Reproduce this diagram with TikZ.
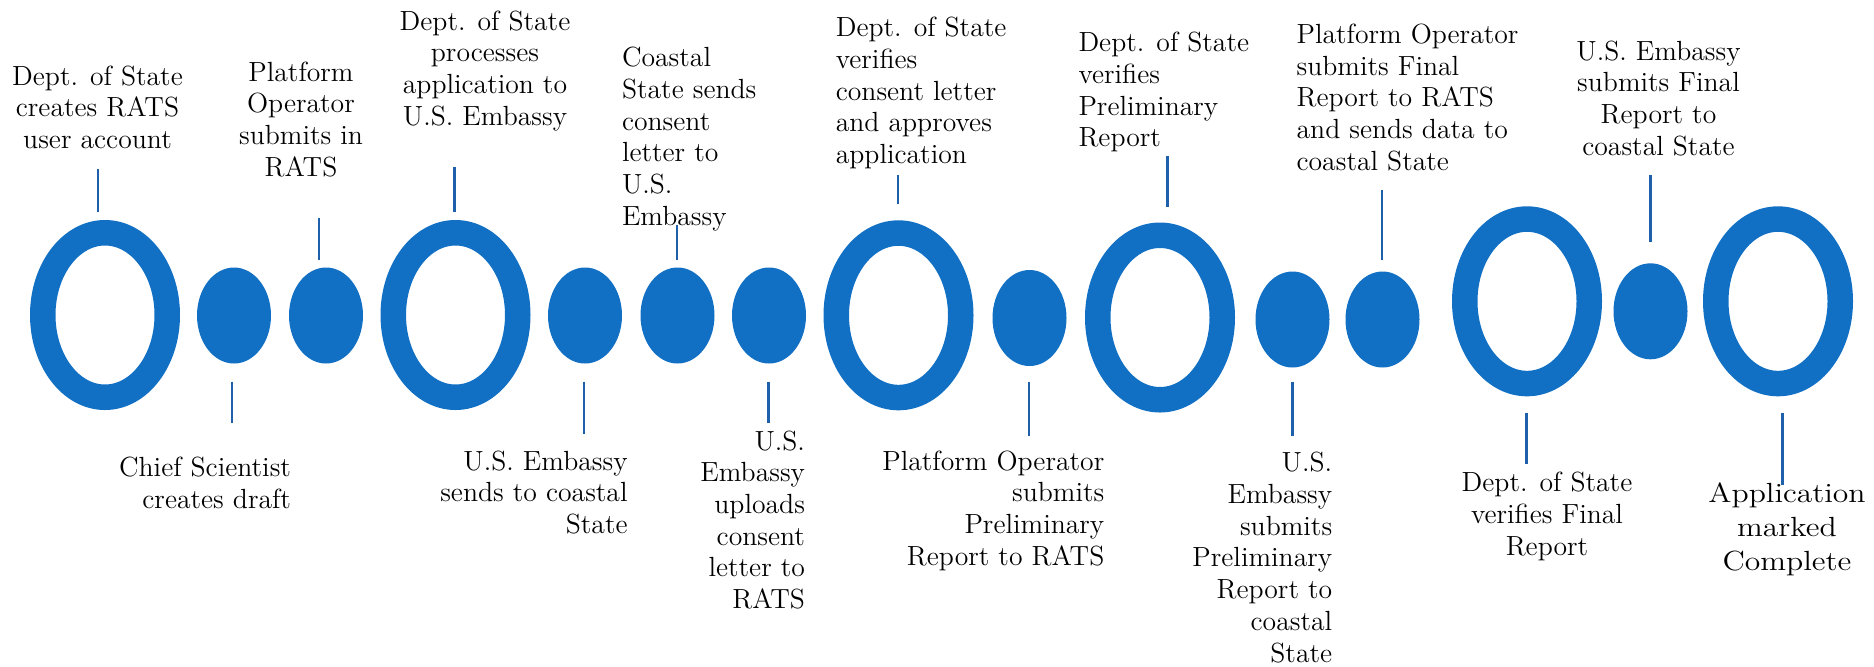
\documentclass[tikz,border=0pt]{standalone}
\usepackage{graphicx}
\usetikzlibrary{shapes.geometric}
\definecolor{dotblue}{RGB}{17,112,196}
\definecolor{linkblue}{RGB}{30,96,170}
\begin{document}
\begin{tikzpicture}[x=0.5pt,y=-0.5pt,
  ring/.style={ellipse, draw=dotblue, line width=12.75pt, minimum width=62.25pt, minimum height=82.25pt, inner sep=0pt, outer sep=0pt},
  dotnode/.style={ellipse, fill=dotblue, minimum width=37pt, minimum height=48pt, inner sep=0pt, outer sep=0pt},
  conn/.style={draw=linkblue, line width=1.25pt},
  lbl/.style={font=\fontsize{13.85pt}{15.85pt}\selectfont, inner sep=0pt, outer sep=0pt},
  lblc/.style={lbl, align=center, anchor=north},
  lbll/.style={lbl, align=left, anchor=north west},
  lblr/.style={lbl, align=right, anchor=north east}]
\useasboundingbox (0,0) rectangle (1874,666);
\fill[white] (0,0) rectangle (1874,666);

% rings and dots
\node[ring] (r1) at (105,315) {};
\node[dotnode] (d1) at (234,315.5) {};
\node[dotnode] (d2) at (326,315.5) {};
\node[ring] (r2) at (455.5,315) {};
\node[dotnode] (d3) at (585,315.5) {};
\node[dotnode] (d4) at (677.5,315.5) {};
\node[dotnode] (d5) at (769,315.5) {};
\node[ring] (r3) at (898.5,315.3) {};
\node[dotnode] (d6) at (1029.5,318) {};
\node[ring] (r4) at (1160,317.5) {};
\node[dotnode] (d7) at (1292.5,319.5) {};
\node[dotnode] (d8) at (1382.5,319.5) {};
\node[ring] (r5) at (1527,301.3) {};
\node[dotnode] (d9) at (1650.5,311.3) {};
\node[ring] (r6) at (1778,301.3) {};

% labels above
\node[lblc] (t1) at (97.5,65.6) {Dept. of State\\creates RATS\\user account};
\node[lblc] (t2) at (301,61.6) {Platform\\Operator\\submits in\\RATS};
\node[lblc] (t3) at (485,10.6) {Dept. of State\\processes\\application to\\U.S. Embassy};
\node[lbll] (t4) at (622,47.3) {Coastal\\State sends\\consent\\letter to\\U.S.\\Embassy};
\node[lbll] (t5) at (835.8,17.3) {Dept. of State\\verifies\\consent letter\\and approves\\application};
\node[lbll] (t6) at (1078.5,32.3) {Dept. of State\\verifies\\Preliminary\\Report};
\node[lbll] (t7) at (1296.6,23.9) {Platform Operator\\submits Final\\Report to RATS\\and sends data to\\coastal State};
\node[lblc] (t8) at (1658.5,40.6) {U.S. Embassy\\submits Final\\Report to\\coastal State};

% labels below
\node[lblr] (t9) at (291,457.3) {Chief Scientist\\creates draft};
\node[lblr] (t10) at (627.6,450.6) {U.S. Embassy\\sends to coastal\\State};
\node[lblr] (t11) at (805,430.6) {U.S.\\Embassy\\uploads\\consent\\letter to\\RATS};
\node[lblr] (t12) at (1104.3,450.6) {Platform Operator\\submits\\Preliminary\\Report to RATS};
\node[lblr] (t13) at (1332.2,452.3) {U.S.\\Embassy\\submits\\Preliminary\\Report to\\coastal\\State};
\node[lblc] (t14) at (1547,472.3) {Dept. of State\\verifies Final\\Report};
\node[lblc, font=\fontsize{13.85pt}{17pt}\selectfont] (t15) at (1787,482.3) {\scalebox{1.14}[1]{Application}\\\scalebox{1.14}[1]{marked}\\\scalebox{1.14}[1]{Complete}};

% connector end points
\coordinate (c1a) at (98,169);     \coordinate (c1b) at (98,211.7);
\coordinate (c2a) at (319,217.7);  \coordinate (c2b) at (319,260);
\coordinate (c3a) at (454.5,167.3);\coordinate (c3b) at (454.5,211.7);
\coordinate (c4a) at (677,225);    \coordinate (c4b) at (677,260);
\coordinate (c5a) at (898,175);    \coordinate (c5b) at (898,204.3);
\coordinate (c6a) at (1167.7,155.7);\coordinate (c6b) at (1167.7,206.7);
\coordinate (c7a) at (1382,190);   \coordinate (c7b) at (1382,260);
\coordinate (c8a) at (1650.5,175); \coordinate (c8b) at (1650.5,242.3);
\coordinate (c9a) at (232,381.7);  \coordinate (c9b) at (232,423.3);
\coordinate (c10a) at (584,381.7); \coordinate (c10b) at (584,434.3);
\coordinate (c11a) at (768.6,381.7);\coordinate (c11b) at (768.6,423.3);
\coordinate (c12a) at (1029,381.7);\coordinate (c12b) at (1029,436);
\coordinate (c13a) at (1292.5,381.7);\coordinate (c13b) at (1292.5,436);
\coordinate (c14a) at (1526.5,413.3);\coordinate (c14b) at (1526.5,464.3);
\coordinate (c15a) at (1782.6,413.3);\coordinate (c15b) at (1782.6,485);

\foreach \i in {1,...,15} {\draw[conn] (c\i a) -- (c\i b);}
\end{tikzpicture}
\end{document}
